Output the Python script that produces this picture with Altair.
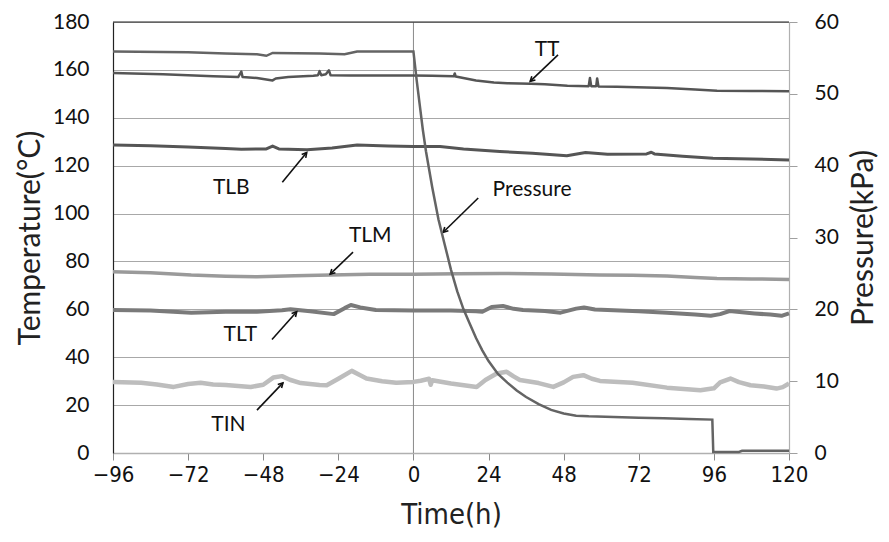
import math
import altair as alt
import pandas as pd

# ---------------- data ----------------
# temperatures in °C, time in hours
tt_t = [-96,-80,-64,-56,-55,-54.6,-50,-46,-45,-44,-40,-32,-30.5,-30,-29.5,-28,-27,-26.5,-20,-10,0,6,12.9,13.2,13.5,20,25.7,30,37.5,42,49.2,56,56.4,56.8,58.4,58.7,59.1,65,81,90,97,108,120]
tt_v = [158.7,158.2,157.3,157.0,159.3,157.0,156.6,155.8,155.6,156.4,157.0,157.6,157.8,159.5,157.8,158.2,159.8,157.8,157.7,157.7,157.7,157.6,157.3,158.5,157.2,155.6,154.7,154.4,154.2,154.0,153.4,153.2,156.6,153.2,153.2,156.4,153.1,153.0,152.4,151.8,151.3,151.2,151.1]

tlb_t = [-96,-84,-72,-60,-55,-47,-45,-43,-34,-26,-18,-8,0,8.5,16,27.6,38,49,55,62,74.5,76,77,86,95.7,108,120]
tlb_v = [128.6,128.3,127.8,127.2,126.9,127.0,128.2,127.0,126.6,127.4,128.6,128.2,128.0,128.0,127.0,125.9,125.2,124.1,125.5,124.8,124.9,125.6,124.9,123.9,123.1,122.8,122.4]

tlm_t = [-96,-84,-71,-60,-50,-38,-26.6,-14,0,14,27.6,44,59.5,70,81,90,97,108,120]
tlm_v = [75.7,75.3,74.3,73.8,73.6,74.0,74.3,74.7,74.7,74.9,75.0,74.8,74.3,74.2,73.9,73.3,72.9,72.7,72.5]

tlt_t = [-96,-84,-71,-60,-50,-42,-39.3,-33,-25.5,-22,-20,-17,-12,0,12,20,22,25,28.6,32,35,42,47,52,54.5,58,62,72,81,90,95,98,101,105,109,114,117.6,120]
tlt_v = [59.7,59.5,58.6,59.0,59.0,59.6,60.0,59.2,58.0,60.5,61.8,60.8,59.7,59.5,59.5,59.2,59.0,61.0,61.4,60.2,59.7,59.3,58.6,60.3,60.8,59.9,59.7,59.2,58.6,57.8,57.3,58.0,59.3,58.8,58.3,57.8,57.3,58.3]

tin_t = [-96,-87,-82,-76.6,-72,-68,-64,-60,-52,-48,-44.8,-42,-39.5,-36,-30,-27.7,-24,-19.7,-17,-15,-10,-5.5,0,2.3,5,5.5,6,12,20.2,23,26.6,29.8,32,34,40,44.7,48,51,54.3,57,59.6,70,81,91.7,96,98,101.3,104,107.7,112,116,118,120]
tin_v = [29.7,29.3,28.6,27.6,28.8,29.3,28.6,28.4,27.6,28.5,31.5,32.1,30.6,29.2,28.4,28.3,31.0,34.3,32.5,31.1,30.0,29.3,29.7,30.2,31.0,28.5,30.4,29.0,27.6,30.5,33.2,33.9,32.0,30.5,29.2,27.6,29.5,31.8,32.5,31.0,30.1,29.3,27.3,26.2,27.0,29.5,31.1,29.6,28.3,27.8,26.9,27.5,29.0]

# pressure in kPa
pr_t = [-96,-72,-60,-50,-47,-45,-30,-22,-18,-1,0,1,2,3,4,5,6,8,10,12,14,16,18,20,22,24,27,30,33,36,40,44,48,52,56,64,72,80,88,95.5,95.8,104,105,120]
pr_v = [55.9,55.8,55.6,55.5,55.3,55.7,55.6,55.5,55.9,55.9,55.9,52.0,48.5,45.0,42.0,39.5,37.0,32.5,29.0,25.5,22.5,20.0,18.0,16.0,14.3,12.8,11.0,9.8,8.7,7.8,6.8,6.0,5.5,5.2,5.1,5.0,4.9,4.85,4.75,4.65,0.15,0.15,0.3,0.3]

series_names = ["TT", "TLB", "TLM", "TLT", "TIN"]
series_colors = ["#555555", "#555555", "#9a9a9a", "#7a7a7a", "#bdbdbd"]
series_widths = [2.5, 4.5, 3, 4.5, 4]

# annotations: label position, arrow tail and arrow head (time h, temperature °C)
ann_label = ["TT", "TLB", "Pressure", "TLM", "TLT", "TIN"]
ann_lx = [42.7, -58.2, 37.9, -13.8, -55.3, -59.1]
ann_ly = [168.4, 110.7, 109.8, 90.6, 49.2, 11.6]
ann_ax = [46.2, -41.9, 20.7, -19.3, -45.2, -50.0]
ann_ay = [166.3, 113.1, 106.5, 83.9, 47.4, 17.9]
ann_hx = [37.3, -34.1, 9.5, -26.6, -37.3, -41.7]
ann_hy = [155.2, 125.5, 92.2, 74.7, 59.0, 29.3]

x_ticks = [-96, -72, -48, -24, 0, 24, 48, 72, 96, 120]
t_ticks = [0, 20, 40, 60, 80, 100, 120, 140, 160, 180]
p_ticks = [0, 10, 20, 30, 40, 50, 60]

# ---------------- build ----------------
W, H = 676, 431
rows = []
for name, ts, vs in zip(series_names, [tt_t, tlb_t, tlm_t, tlt_t, tin_t], [tt_v, tlb_v, tlm_v, tlt_v, tin_v]):
    for t, v in zip(ts, vs):
        rows.append({"t": t, "v": v, "s": name})
temp_df = pd.DataFrame(rows)
pr_df = pd.DataFrame({"t": pr_t, "p": pr_v})

kx = W / 216.0
ky = H / 180.0
angles = []
for ax_, ay_, hx_, hy_ in zip(ann_ax, ann_ay, ann_hx, ann_hy):
    dx = (hx_ - ax_) * kx
    dy = -(hy_ - ay_) * ky
    angles.append(math.degrees(math.atan2(dx, -dy)) % 360)
ann_df = pd.DataFrame({"label": ann_label, "lx": ann_lx, "ly": ann_ly,
                       "ax": ann_ax, "ay": ann_ay, "hx": ann_hx, "hy": ann_hy, "ang": angles})

YF = "Lato, Open Sans, sans-serif"
XF = "Liberation Sans Narrow, DejaVu Sans Condensed, Roboto Condensed, Lato, sans-serif"

xscale = alt.Scale(domain=[-96, 120], nice=False, zero=False)
tscale = alt.Scale(domain=[0, 180], nice=False)

x_axis = alt.Axis(values=x_ticks, grid=False, domainColor="#b0b0b0", domainWidth=1.5,
                  tickColor="#8a8a8a", tickSize=7, labelFont=XF, labelFontSize=22,
                  labelColor="#111", labelPadding=4, labelFlush=False, title="Time(h)", titleFont=XF,
                  titleFontSize=29, titleFontWeight="normal", titleColor="#222",
                  titleX=338, titleY=61, titleAlign="center", titleBaseline="middle")

y_axis = alt.Axis(values=t_ticks, grid=True, gridColor="#a8a8a8", gridWidth=1,
                  domainColor="#222", domainWidth=1.2, ticks=False, labelPadding=24,
                  labelFont=YF, labelFontSize=21, labelColor="#111",
                  title="Temperature(°C)", titleFont=YF, titleFontSize=30,
                  titleFontWeight="normal", titleColor="#222", titleAngle=270,
                  titleX=-83, titleY=H / 2, titleAlign="center", titleBaseline="middle")

temp_lines = alt.Chart(temp_df).mark_line(strokeJoin="round").encode(
    x=alt.X("t:Q", scale=xscale, axis=x_axis),
    y=alt.Y("v:Q", scale=tscale, axis=y_axis),
    color=alt.Color("s:N", scale=alt.Scale(domain=series_names, range=series_colors), legend=None),
    strokeWidth=alt.StrokeWidth("s:N", scale=alt.Scale(domain=series_names, range=series_widths), legend=None),
    detail="s:N",
)

top_rule = alt.Chart(pd.DataFrame({"v": [180]})).mark_rule(color="#222", strokeWidth=1.2).encode(
    y=alt.Y("v:Q", scale=tscale))
zero_rule = alt.Chart(pd.DataFrame({"t": [0]})).mark_rule(color="#8a8a8a", strokeWidth=1).encode(
    x=alt.X("t:Q", scale=xscale))

arrows = alt.Chart(ann_df).mark_rule(color="#111", strokeWidth=1.6).encode(
    x=alt.X("ax:Q", scale=xscale), y=alt.Y("ay:Q", scale=tscale), x2="hx:Q", y2="hy:Q")
heads = alt.Chart(ann_df).mark_point(shape="M -0.55 1 L 0 0 L 0.55 1", filled=False,
                                     color="#111", strokeWidth=1.6, size=90, opacity=1).encode(
    x=alt.X("hx:Q", scale=xscale), y=alt.Y("hy:Q", scale=tscale), angle=alt.Angle("ang:Q", scale=None))
labels = alt.Chart(ann_df).mark_text(font=YF, fontSize=21, color="#111").encode(
    x=alt.X("lx:Q", scale=xscale), y=alt.Y("ly:Q", scale=tscale), text="label:N")

temp_group = alt.layer(zero_rule, temp_lines, top_rule, arrows, heads, labels)

pressure = alt.Chart(pr_df).mark_line(color="#646464", strokeWidth=2.5).encode(
    x=alt.X("t:Q", scale=xscale),
    y=alt.Y("p:Q", scale=alt.Scale(domain=[0, 60], nice=False),
            axis=alt.Axis(orient="right", values=p_ticks, grid=False, domainColor="#b0b0b0",
                          domainWidth=1.2, tickColor="#a0a0a0", tickSize=8, labelPadding=17,
                          labelFont=YF, labelFontSize=21, labelColor="#111",
                          title="Pressure(kPa)", titleFont=YF, titleFontSize=30,
                          titleFontWeight="normal", titleColor="#222", titleAngle=270,
                          titleX=74, titleY=H / 2, titleAlign="center", titleBaseline="middle")),
)

chart = alt.layer(temp_group, pressure).resolve_scale(y="independent").properties(
    width=W, height=H, autosize="none",
    padding={"left": 105, "top": 14, "right": 92, "bottom": 81},
).configure_view(stroke=None).configure(background="white")

chart.save("out.html", embed_options={"renderer": "svg", "actions": False})
